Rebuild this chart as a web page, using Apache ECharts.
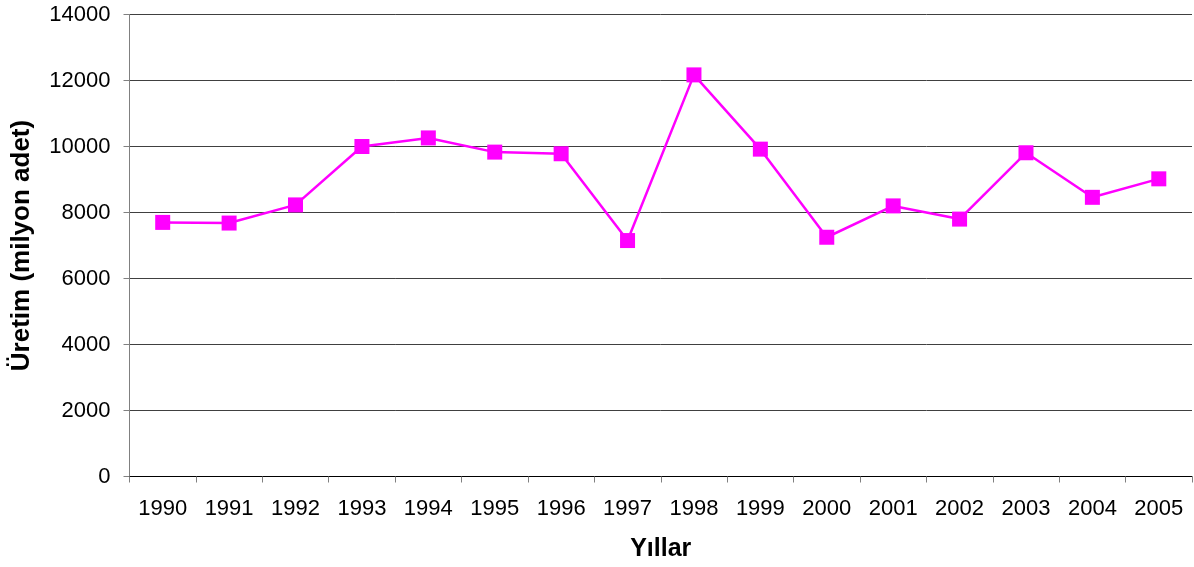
<!DOCTYPE html>
<html>
<head>
<meta charset="utf-8">
<script src="https://cdn.jsdelivr.net/npm/echarts@6/dist/echarts.min.js"></script>
<style>html,body{margin:0;padding:0;background:#fff}#c{width:1194px;height:567px}</style>
</head>
<body>
<div id="c"></div>
<script>
const years = ['1990','1991','1992','1993','1994','1995','1996','1997','1998','1999','2000','2001','2002','2003','2004','2005'];
const production = [7700, 7680, 8230, 10000, 10260, 9830, 9780, 7150, 12170, 9920, 7250, 8200, 7800, 9810, 8460, 9020];
const yTicks = [0, 2000, 4000, 6000, 8000, 10000, 12000, 14000];

const chart = echarts.init(document.getElementById('c'), null, {renderer: 'canvas'});
const font = 'Liberation Sans, Arial, sans-serif';
chart.setOption({
  animation: false,
  backgroundColor: '#fff',
  grid: {left: 129.5, right: 2, top: 14.5, bottom: 90.5, containLabel: false, outerBoundsMode: 'none'},
  xAxis: {
    type: 'category',
    data: years,
    boundaryGap: true,
    name: 'Yıllar',
    nameLocation: 'middle',
    nameGap: 60,
    nameTextStyle: {fontFamily: font, fontSize: 25, fontWeight: 'bold', color: '#000'},
    axisLine: {lineStyle: {color: '#000', width: 1}},
    axisTick: {show: true, length: 6, alignWithLabel: false, lineStyle: {color: '#808080'}},
    axisLabel: {fontFamily: font, fontSize: 22, color: '#000', margin: 21, interval: 0},
    splitLine: {show: false}
  },
  yAxis: {
    type: 'value',
    min: yTicks[0],
    max: yTicks[yTicks.length - 1],
    interval: 2000,
    name: 'Üretim (milyon adet)',
    nameLocation: 'middle',
    nameRotate: 90,
    nameGap: 95,
    nameTextStyle: {fontFamily: font, fontSize: 26, fontWeight: 'bold', color: '#000'},
    axisLine: {show: true, lineStyle: {color: '#808080', width: 1}},
    axisTick: {show: true, length: 6, lineStyle: {color: '#808080'}},
    axisLabel: {fontFamily: font, fontSize: 22, color: '#000', margin: 19, formatter: v => String(v)},
    splitLine: {show: true, lineStyle: {color: '#404040', width: 1}}
  },
  series: [{
    type: 'line',
    data: production,
    symbol: 'rect',
    symbolSize: 15,
    lineStyle: {color: '#FF00FF', width: 2.5},
    itemStyle: {color: '#FF00FF'},
    z: 5
  }]
});
</script>
</body>
</html>
